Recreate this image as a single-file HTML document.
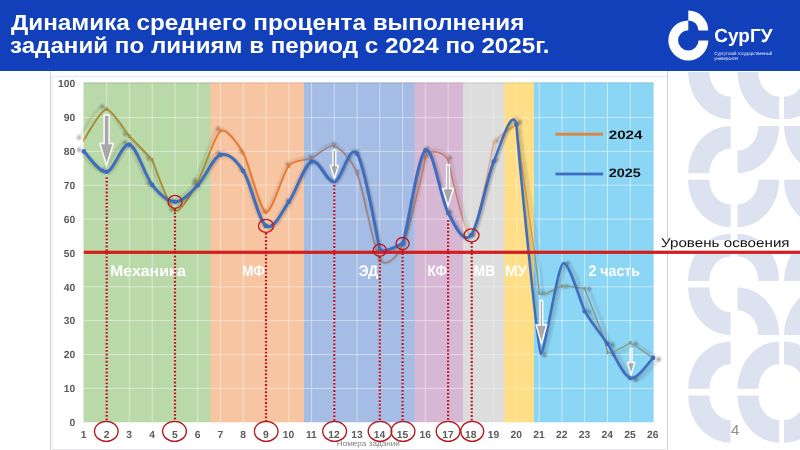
<!DOCTYPE html>
<html><head><meta charset="utf-8"><title>slide</title>
<style>
html,body{margin:0;padding:0;background:#fff;}
svg,div{will-change:transform}
text{text-rendering:geometricPrecision}
body{width:800px;height:450px;position:relative;overflow:hidden;font-family:"Liberation Sans",sans-serif;}
#hdr{position:absolute;left:0;top:0;width:800px;height:70.6px;background:#1240bb;}
.t{position:absolute;left:10px;color:#fff;font-weight:bold;font-size:21.5px;line-height:22px;white-space:nowrap;transform-origin:0 0;}
#frame{position:absolute;left:50.4px;top:69px;width:617.9px;height:384px;border:1.5px solid #d2d2d4;background:#fff;box-sizing:border-box;}
#frame2{position:absolute;left:52.2px;top:77.2px;width:614.4px;height:372.6px;border-left:1.2px solid #ececee;border-bottom:1.2px solid #e6e6e8;box-sizing:border-box;}
#lvl{position:absolute;left:656px;top:239.5px;width:144px;height:11.5px;background:#fff;}
#pg{position:absolute;left:730.7px;top:421.2px;font-size:15px;color:#8c8c8c;}
</style></head><body>
<svg width="800" height="450" viewBox="0 0 800 450" style="position:absolute;left:0;top:0"><g fill="#dde2f1">
<path d="M688.1 72.0 A42.5 47.3 0 0 0 730.6 119.3 V96.6 A21.2 24.6 0 0 1 709.4 72.0 Z"/>
<path d="M737.5 72.0 A41.7 47.3 0 0 0 779.2 119.3 V96.6 A20.9 24.6 0 0 1 758.4 72.0 Z"/>
<path d="M826.0 72.0 A42.0 47.3 0 0 1 784.0 119.3 V96.6 A21.0 24.6 0 0 0 805.0 72.0 Z"/>
<path d="M688.1 173.2 A42.5 47.3 0 0 1 730.6 125.9 V148.6 A21.2 24.6 0 0 0 709.4 173.2 Z"/>
<path d="M779.2 125.9 A41.7 47.3 0 0 1 737.5 173.2 V150.5 A20.9 24.6 0 0 0 758.4 125.9 Z"/>
<path d="M784.0 125.9 A42.0 47.3 0 0 0 826.0 173.2 V150.5 A21.0 24.6 0 0 1 805.0 125.9 Z"/>
<path d="M688.1 179.8 A42.5 47.3 0 0 0 730.6 227.1 V204.4 A21.2 24.6 0 0 1 709.4 179.8 Z"/>
<path d="M779.2 179.8 A41.7 47.3 0 0 1 737.5 227.1 V204.4 A20.9 24.6 0 0 0 758.4 179.8 Z"/>
<path d="M784.0 179.8 A42.0 47.3 0 0 0 826.0 227.1 V204.4 A21.0 24.6 0 0 1 805.0 179.8 Z"/>
<path d="M688.1 281.0 A42.5 47.3 0 0 1 730.6 233.7 V256.4 A21.2 24.6 0 0 0 709.4 281.0 Z"/>
<path d="M779.2 281.0 A41.7 47.3 0 0 0 737.5 233.7 V256.4 A20.9 24.6 0 0 1 758.4 281.0 Z"/>
<path d="M784.0 281.0 A42.0 47.3 0 0 1 826.0 233.7 V256.4 A21.0 24.6 0 0 0 805.0 281.0 Z"/>
<path d="M688.1 287.6 A42.5 47.3 0 0 0 730.6 334.9 V312.2 A21.2 24.6 0 0 1 709.4 287.6 Z"/>
<path d="M779.2 334.9 A41.7 47.3 0 0 0 737.5 287.6 V310.3 A20.9 24.6 0 0 1 758.4 334.9 Z"/>
<path d="M784.0 334.9 A42.0 47.3 0 0 1 826.0 287.6 V310.3 A21.0 24.6 0 0 0 805.0 334.9 Z"/>
<path d="M688.1 388.8 A42.5 47.3 0 0 1 730.6 341.5 V364.2 A21.2 24.6 0 0 0 709.4 388.8 Z"/>
<path d="M737.5 388.8 A41.7 47.3 0 0 1 779.2 341.5 V364.2 A20.9 24.6 0 0 0 758.4 388.8 Z"/>
<path d="M826.0 388.8 A42.0 47.3 0 0 0 784.0 341.5 V364.2 A21.0 24.6 0 0 1 805.0 388.8 Z"/>
<path d="M688.1 395.4 A42.5 47.3 0 0 0 730.6 442.7 V420.0 A21.2 24.6 0 0 1 709.4 395.4 Z"/>
<path d="M737.5 395.4 A41.7 47.3 0 0 0 779.2 442.7 V420.0 A20.9 24.6 0 0 1 758.4 395.4 Z"/>
<path d="M826.0 395.4 A42.0 47.3 0 0 1 784.0 442.7 V420.0 A21.0 24.6 0 0 0 805.0 395.4 Z"/>
</g></svg>
<div id="frame"></div><div id="frame2"></div><div style="position:absolute;left:52px;top:75.7px;width:614.7px;height:1.4px;background:#e9e9ec"></div>
<div id="hdr"></div>
<div class="t" id="t1" style="left:11.2px;top:11.75px;transform:scaleX(1.1282)">Динамика среднего процента выполнения</div>
<div class="t" id="t2" style="left:10.3px;top:34.65px;transform:scaleX(1.1232)">заданий по линиям в период с 2024 по 2025г.</div>
<svg width="800" height="70" viewBox="0 0 800 70" style="position:absolute;left:0;top:0">
<g fill="#fff">
<path d="M688.3 20.4 A20 20 0 1 0 708.3 40.4 H698.5 A10.2 10.2 0 1 1 688.3 30.2 Z"/>
<path d="M688.3 10.6 A20 20 0 0 1 708.3 30.4 H698.5 A10.2 10.2 0 0 0 688.3 20.4 Z"/>
</g>
<text x="714.3" y="42.2" textLength="58.2" lengthAdjust="spacingAndGlyphs" font-family="Liberation Sans, sans-serif" font-weight="bold" font-size="19" fill="#fff">СурГУ</text>
<text x="714.3" y="54.8" textLength="58" lengthAdjust="spacingAndGlyphs" font-family="Liberation Sans, sans-serif" font-size="4.6" fill="#fff" opacity="0.9">Сургутский государственный</text>
<text x="714.3" y="59.9" textLength="24.5" lengthAdjust="spacingAndGlyphs" font-family="Liberation Sans, sans-serif" font-size="4.6" fill="#fff" opacity="0.9">университет</text>
</svg>
<div id="lvl"></div>
<svg width="800" height="450" viewBox="0 0 800 450" style="position:absolute;left:0;top:0">
<defs>
<clipPath id="cb0"><rect x="83.5" y="70" width="127.0" height="380"/></clipPath>
<clipPath id="cb1"><rect x="210.5" y="70" width="93.5" height="380"/></clipPath>
<clipPath id="cb2"><rect x="304.0" y="70" width="110.4" height="380"/></clipPath>
<clipPath id="cb3"><rect x="414.4" y="70" width="48.6" height="380"/></clipPath>
<clipPath id="cb4"><rect x="463.0" y="70" width="41.2" height="380"/></clipPath>
<clipPath id="cb5"><rect x="504.2" y="70" width="29.8" height="380"/></clipPath>
<clipPath id="cb6"><rect x="534.0" y="70" width="119.6" height="380"/></clipPath>
<filter id="bl" x="-100%" y="-100%" width="300%" height="300%"><feGaussianBlur stdDeviation="1.1"/></filter>
<filter id="bl2" x="-20%" y="-20%" width="140%" height="140%"><feGaussianBlur stdDeviation="1.1"/></filter>
</defs>
<rect x="83.5" y="82.4" width="127.7" height="339.9" fill="#bad9a8"/>
<rect x="210.5" y="82.4" width="94.2" height="339.9" fill="#f7c5a2"/>
<rect x="304.0" y="82.4" width="111.1" height="339.9" fill="#a5bde5"/>
<rect x="414.4" y="82.4" width="49.3" height="339.9" fill="#d7b8d4"/>
<rect x="463.0" y="82.4" width="41.9" height="339.9" fill="#dddddd"/>
<rect x="504.2" y="82.4" width="30.5" height="339.9" fill="#fedf88"/>
<rect x="534.0" y="82.4" width="119.6" height="339.9" fill="#8cd6f5"/>
<rect x="83.5" y="82.4" width="570.1" height="1.2" fill="#000" opacity="0.08"/>
<g stroke="#fff" stroke-opacity="0.45" stroke-width="1" clip-path="url(#cb0)"><line x1="106.7" y1="82.4" x2="106.7" y2="422.3"/><line x1="129.4" y1="82.4" x2="129.4" y2="422.3"/><line x1="152.2" y1="82.4" x2="152.2" y2="422.3"/><line x1="175.0" y1="82.4" x2="175.0" y2="422.3"/><line x1="197.7" y1="82.4" x2="197.7" y2="422.3"/><line x1="83.5" y1="388.4" x2="210.5" y2="388.4"/><line x1="83.5" y1="354.5" x2="210.5" y2="354.5"/><line x1="83.5" y1="320.6" x2="210.5" y2="320.6"/><line x1="83.5" y1="286.8" x2="210.5" y2="286.8"/><line x1="83.5" y1="252.9" x2="210.5" y2="252.9"/><line x1="83.5" y1="219.1" x2="210.5" y2="219.1"/><line x1="83.5" y1="185.2" x2="210.5" y2="185.2"/><line x1="83.5" y1="151.4" x2="210.5" y2="151.4"/><line x1="83.5" y1="117.6" x2="210.5" y2="117.6"/></g>
<g stroke="#fff" stroke-opacity="0.45" stroke-width="1" clip-path="url(#cb1)"><line x1="220.5" y1="82.4" x2="220.5" y2="422.3"/><line x1="243.3" y1="82.4" x2="243.3" y2="422.3"/><line x1="266.0" y1="82.4" x2="266.0" y2="422.3"/><line x1="288.8" y1="82.4" x2="288.8" y2="422.3"/><line x1="210.5" y1="388.4" x2="304.0" y2="388.4"/><line x1="210.5" y1="354.5" x2="304.0" y2="354.5"/><line x1="210.5" y1="320.6" x2="304.0" y2="320.6"/><line x1="210.5" y1="286.8" x2="304.0" y2="286.8"/><line x1="210.5" y1="252.9" x2="304.0" y2="252.9"/><line x1="210.5" y1="219.1" x2="304.0" y2="219.1"/><line x1="210.5" y1="185.2" x2="304.0" y2="185.2"/><line x1="210.5" y1="151.4" x2="304.0" y2="151.4"/><line x1="210.5" y1="117.6" x2="304.0" y2="117.6"/></g>
<g stroke="#fff" stroke-opacity="0.45" stroke-width="1" clip-path="url(#cb2)"><line x1="311.6" y1="82.4" x2="311.6" y2="422.3"/><line x1="334.3" y1="82.4" x2="334.3" y2="422.3"/><line x1="357.1" y1="82.4" x2="357.1" y2="422.3"/><line x1="379.8" y1="82.4" x2="379.8" y2="422.3"/><line x1="402.6" y1="82.4" x2="402.6" y2="422.3"/><line x1="304.0" y1="388.4" x2="414.4" y2="388.4"/><line x1="304.0" y1="354.5" x2="414.4" y2="354.5"/><line x1="304.0" y1="320.6" x2="414.4" y2="320.6"/><line x1="304.0" y1="286.8" x2="414.4" y2="286.8"/><line x1="304.0" y1="252.9" x2="414.4" y2="252.9"/><line x1="304.0" y1="219.1" x2="414.4" y2="219.1"/><line x1="304.0" y1="185.2" x2="414.4" y2="185.2"/><line x1="304.0" y1="151.4" x2="414.4" y2="151.4"/><line x1="304.0" y1="117.6" x2="414.4" y2="117.6"/></g>
<g stroke="#fff" stroke-opacity="0.42" stroke-width="1" clip-path="url(#cb3)"><line x1="425.4" y1="82.4" x2="425.4" y2="422.3"/><line x1="448.1" y1="82.4" x2="448.1" y2="422.3"/><line x1="414.4" y1="388.4" x2="463.0" y2="388.4"/><line x1="414.4" y1="354.5" x2="463.0" y2="354.5"/><line x1="414.4" y1="320.6" x2="463.0" y2="320.6"/><line x1="414.4" y1="286.8" x2="463.0" y2="286.8"/><line x1="414.4" y1="252.9" x2="463.0" y2="252.9"/><line x1="414.4" y1="219.1" x2="463.0" y2="219.1"/><line x1="414.4" y1="185.2" x2="463.0" y2="185.2"/><line x1="414.4" y1="151.4" x2="463.0" y2="151.4"/><line x1="414.4" y1="117.6" x2="463.0" y2="117.6"/></g>
<g stroke="#fff" stroke-opacity="0.25" stroke-width="1" clip-path="url(#cb4)"><line x1="470.9" y1="82.4" x2="470.9" y2="422.3"/><line x1="493.7" y1="82.4" x2="493.7" y2="422.3"/><line x1="463.0" y1="388.4" x2="504.2" y2="388.4"/><line x1="463.0" y1="354.5" x2="504.2" y2="354.5"/><line x1="463.0" y1="320.6" x2="504.2" y2="320.6"/><line x1="463.0" y1="286.8" x2="504.2" y2="286.8"/><line x1="463.0" y1="252.9" x2="504.2" y2="252.9"/><line x1="463.0" y1="219.1" x2="504.2" y2="219.1"/><line x1="463.0" y1="185.2" x2="504.2" y2="185.2"/><line x1="463.0" y1="151.4" x2="504.2" y2="151.4"/><line x1="463.0" y1="117.6" x2="504.2" y2="117.6"/></g>
<g stroke="#fff" stroke-opacity="0.30" stroke-width="1" clip-path="url(#cb5)"><line x1="516.4" y1="82.4" x2="516.4" y2="422.3"/><line x1="504.2" y1="388.4" x2="534.0" y2="388.4"/><line x1="504.2" y1="354.5" x2="534.0" y2="354.5"/><line x1="504.2" y1="320.6" x2="534.0" y2="320.6"/><line x1="504.2" y1="286.8" x2="534.0" y2="286.8"/><line x1="504.2" y1="252.9" x2="534.0" y2="252.9"/><line x1="504.2" y1="219.1" x2="534.0" y2="219.1"/><line x1="504.2" y1="185.2" x2="534.0" y2="185.2"/><line x1="504.2" y1="151.4" x2="534.0" y2="151.4"/><line x1="504.2" y1="117.6" x2="534.0" y2="117.6"/></g>
<g stroke="#fff" stroke-opacity="0.50" stroke-width="1" clip-path="url(#cb6)"><line x1="539.2" y1="82.4" x2="539.2" y2="422.3"/><line x1="562.0" y1="82.4" x2="562.0" y2="422.3"/><line x1="584.7" y1="82.4" x2="584.7" y2="422.3"/><line x1="607.5" y1="82.4" x2="607.5" y2="422.3"/><line x1="630.3" y1="82.4" x2="630.3" y2="422.3"/><line x1="534.0" y1="388.4" x2="653.6" y2="388.4"/><line x1="534.0" y1="354.5" x2="653.6" y2="354.5"/><line x1="534.0" y1="320.6" x2="653.6" y2="320.6"/><line x1="534.0" y1="286.8" x2="653.6" y2="286.8"/><line x1="534.0" y1="252.9" x2="653.6" y2="252.9"/><line x1="534.0" y1="219.1" x2="653.6" y2="219.1"/><line x1="534.0" y1="185.2" x2="653.6" y2="185.2"/><line x1="534.0" y1="151.4" x2="653.6" y2="151.4"/><line x1="534.0" y1="117.6" x2="653.6" y2="117.6"/></g>
<text x="110.0" y="275.6" textLength="75.8" lengthAdjust="spacingAndGlyphs" font-family="Liberation Sans, sans-serif" font-weight="bold" font-size="15.4" fill="#fff">Механика</text>
<text x="242.0" y="275.6" textLength="23.0" lengthAdjust="spacingAndGlyphs" font-family="Liberation Sans, sans-serif" font-weight="bold" font-size="15.4" fill="#fff">МФ</text>
<text x="358.8" y="275.6" textLength="19.2" lengthAdjust="spacingAndGlyphs" font-family="Liberation Sans, sans-serif" font-weight="bold" font-size="15.4" fill="#fff">ЭД</text>
<text x="427.5" y="275.6" textLength="19.5" lengthAdjust="spacingAndGlyphs" font-family="Liberation Sans, sans-serif" font-weight="bold" font-size="15.4" fill="#fff">КФ</text>
<text x="473.8" y="275.6" textLength="21.2" lengthAdjust="spacingAndGlyphs" font-family="Liberation Sans, sans-serif" font-weight="bold" font-size="15.4" fill="#fff">МВ</text>
<text x="505.0" y="275.6" textLength="22.0" lengthAdjust="spacingAndGlyphs" font-family="Liberation Sans, sans-serif" font-weight="bold" font-size="15.4" fill="#fff">МУ</text>
<text x="588.4" y="275.6" textLength="51.6" lengthAdjust="spacingAndGlyphs" font-family="Liberation Sans, sans-serif" font-weight="bold" font-size="15.4" fill="#fff">2 часть</text>
<g filter="url(#bl)" transform="translate(343 270) scale(1.019 1.016) translate(-343 -270)"><g fill="none" stroke="#222" opacity="0.16"><path d="M83.90 139.89 C86.75 136.04 99.67 110.59 106.67 109.09 C113.67 111.09 123.74 129.82 129.43 136.17 C135.12 142.51 147.19 153.86 152.19 159.86 C155.69 168.86 169.27 207.89 174.96 210.64 C180.65 213.39 192.03 191.81 197.73 181.87 C203.42 171.92 214.80 134.69 220.49 131.09 C226.18 127.49 237.56 142.94 243.26 153.09 C248.95 163.25 260.33 210.72 266.02 212.33 C271.71 213.94 283.09 172.73 288.78 165.96 C294.48 159.19 305.86 160.67 311.55 158.17 C317.24 155.67 328.62 144.08 334.32 145.98 C340.01 147.89 351.39 159.19 357.08 173.40 C362.77 187.62 374.15 250.79 379.85 259.72 C385.54 268.65 396.92 257.65 402.61 244.83 C408.30 232.01 424.38 167.15 425.38 157.15 C428.88 148.15 443.14 151.52 448.14 159.52 C450.64 171.52 465.21 237.46 470.90 235.35 C476.60 233.23 491.17 152.60 493.67 142.60 C497.67 137.60 511.44 127.00 516.44 125.00 C517.94 145.00 538.40 270.89 539.20 292.89 C541.70 298.89 556.27 286.67 561.97 286.12 C567.66 285.57 579.73 287.99 584.73 288.49 C586.23 294.49 606.00 338.47 607.50 352.47 C611.50 353.97 625.26 346.15 630.26 342.65 C635.26 345.65 650.18 355.98 653.02 357.88" stroke-width="1.6"/><path d="M83.90 151.40 C87.69 154.79 99.08 172.84 106.67 171.71 C114.25 170.58 121.84 142.43 129.43 144.63 C137.02 146.83 144.61 175.38 152.19 184.91 C159.78 194.45 167.37 201.78 174.96 201.84 C182.55 201.89 190.14 193.09 197.73 185.25 C205.31 177.41 212.90 157.15 220.49 154.79 C228.08 152.42 235.67 159.19 243.26 171.03 C250.84 182.88 258.43 220.74 266.02 225.87 C273.61 231.00 281.20 212.56 288.78 201.84 C296.37 191.12 303.96 164.88 311.55 161.56 C319.14 158.23 326.73 183.16 334.32 181.87 C341.90 180.57 349.49 142.37 357.08 153.77 C364.67 165.17 376.35 234.24 379.85 250.24 C384.85 252.74 397.61 245.97 402.61 243.47 C407.61 229.47 417.79 155.46 425.38 150.38 C432.96 145.31 440.55 198.85 448.14 213.01 C455.73 227.17 463.32 243.92 470.90 235.35 C478.49 226.77 486.08 180.06 493.67 161.56" stroke-width="2.4"/><path d="M493.67 161.56 C501.26 143.05 512.04 106.32 516.44 124.32 C517.94 146.32 537.60 350.82 540.80 353.82 C545.30 351.82 557.57 263.61 563.57 263.11 C569.57 263.61 578.73 297.17 584.73 311.17 C590.73 322.17 601.50 334.67 607.50 343.67 C614.50 354.67 622.67 375.49 630.26 377.86 C637.85 380.23 649.23 361.21 653.02 357.88" stroke-width="2.2"/></g><g fill="#222" opacity="0.38"><circle cx="83.9" cy="139.9" r="2.0"/><circle cx="106.7" cy="109.1" r="2.0"/><circle cx="129.4" cy="136.2" r="2.0"/><circle cx="152.2" cy="159.9" r="2.0"/><circle cx="175.0" cy="210.6" r="2.0"/><circle cx="197.7" cy="181.9" r="2.0"/><circle cx="220.5" cy="131.1" r="2.0"/><circle cx="243.3" cy="153.1" r="2.0"/><circle cx="266.0" cy="212.3" r="2.0"/><circle cx="288.8" cy="166.0" r="2.0"/><circle cx="311.6" cy="158.2" r="2.0"/><circle cx="334.3" cy="146.0" r="2.0"/><circle cx="357.1" cy="173.4" r="2.0"/><circle cx="379.8" cy="259.7" r="2.0"/><circle cx="402.6" cy="244.8" r="2.0"/><circle cx="425.4" cy="157.2" r="2.0"/><circle cx="448.1" cy="159.5" r="2.0"/><circle cx="470.9" cy="235.3" r="2.0"/><circle cx="493.7" cy="142.6" r="2.0"/><circle cx="516.4" cy="125.0" r="2.0"/><circle cx="539.2" cy="292.9" r="2.0"/><circle cx="562.0" cy="286.1" r="2.0"/><circle cx="584.7" cy="288.5" r="2.0"/><circle cx="607.5" cy="352.5" r="2.0"/><circle cx="630.3" cy="342.7" r="2.0"/><circle cx="653.0" cy="357.9" r="2.0"/><circle cx="83.9" cy="151.4" r="2.0"/><circle cx="106.7" cy="171.7" r="2.0"/><circle cx="129.4" cy="144.6" r="2.0"/><circle cx="152.2" cy="184.9" r="2.0"/><circle cx="175.0" cy="201.8" r="2.0"/><circle cx="197.7" cy="185.2" r="2.0"/><circle cx="220.5" cy="154.8" r="2.0"/><circle cx="243.3" cy="171.0" r="2.0"/><circle cx="266.0" cy="225.9" r="2.0"/><circle cx="288.8" cy="201.8" r="2.0"/><circle cx="311.6" cy="161.6" r="2.0"/><circle cx="334.3" cy="181.9" r="2.0"/><circle cx="357.1" cy="153.8" r="2.0"/><circle cx="379.8" cy="250.2" r="2.0"/><circle cx="402.6" cy="243.5" r="2.0"/><circle cx="425.4" cy="150.4" r="2.0"/><circle cx="448.1" cy="213.0" r="2.0"/><circle cx="470.9" cy="235.3" r="2.0"/><circle cx="493.7" cy="161.6" r="2.0"/><circle cx="516.4" cy="124.3" r="2.0"/><circle cx="540.8" cy="353.8" r="2.0"/><circle cx="563.6" cy="263.1" r="2.0"/><circle cx="584.7" cy="311.2" r="2.0"/><circle cx="607.5" cy="343.7" r="2.0"/><circle cx="630.3" cy="377.9" r="2.0"/><circle cx="653.0" cy="357.9" r="2.0"/></g></g>
<path d="M83.90 139.89 C86.75 136.04 99.67 110.59 106.67 109.09 C113.67 111.09 123.74 129.82 129.43 136.17 C135.12 142.51 147.19 153.86 152.19 159.86 C155.69 168.86 169.27 207.89 174.96 210.64 C180.65 213.39 192.03 191.81 197.73 181.87 C203.42 171.92 214.80 134.69 220.49 131.09 C226.18 127.49 237.56 142.94 243.26 153.09 C248.95 163.25 260.33 210.72 266.02 212.33 C271.71 213.94 283.09 172.73 288.78 165.96 C294.48 159.19 305.86 160.67 311.55 158.17 C317.24 155.67 328.62 144.08 334.32 145.98 C340.01 147.89 351.39 159.19 357.08 173.40 C362.77 187.62 374.15 250.79 379.85 259.72 C385.54 268.65 396.92 257.65 402.61 244.83 C408.30 232.01 424.38 167.15 425.38 157.15 C428.88 148.15 443.14 151.52 448.14 159.52 C450.64 171.52 465.21 237.46 470.90 235.35 C476.60 233.23 491.17 152.60 493.67 142.60 C497.67 137.60 511.44 127.00 516.44 125.00 C517.94 145.00 538.40 270.89 539.20 292.89 C541.70 298.89 556.27 286.67 561.97 286.12 C567.66 285.57 579.73 287.99 584.73 288.49 C586.23 294.49 606.00 338.47 607.50 352.47 C611.50 353.97 625.26 346.15 630.26 342.65 C635.26 345.65 650.18 355.98 653.02 357.88" fill="none" stroke="#a68e3a" stroke-width="2.0" stroke-linejoin="round" clip-path="url(#cb0)"/>
<path d="M83.90 139.89 C86.75 136.04 99.67 110.59 106.67 109.09 C113.67 111.09 123.74 129.82 129.43 136.17 C135.12 142.51 147.19 153.86 152.19 159.86 C155.69 168.86 169.27 207.89 174.96 210.64 C180.65 213.39 192.03 191.81 197.73 181.87 C203.42 171.92 214.80 134.69 220.49 131.09 C226.18 127.49 237.56 142.94 243.26 153.09 C248.95 163.25 260.33 210.72 266.02 212.33 C271.71 213.94 283.09 172.73 288.78 165.96 C294.48 159.19 305.86 160.67 311.55 158.17 C317.24 155.67 328.62 144.08 334.32 145.98 C340.01 147.89 351.39 159.19 357.08 173.40 C362.77 187.62 374.15 250.79 379.85 259.72 C385.54 268.65 396.92 257.65 402.61 244.83 C408.30 232.01 424.38 167.15 425.38 157.15 C428.88 148.15 443.14 151.52 448.14 159.52 C450.64 171.52 465.21 237.46 470.90 235.35 C476.60 233.23 491.17 152.60 493.67 142.60 C497.67 137.60 511.44 127.00 516.44 125.00 C517.94 145.00 538.40 270.89 539.20 292.89 C541.70 298.89 556.27 286.67 561.97 286.12 C567.66 285.57 579.73 287.99 584.73 288.49 C586.23 294.49 606.00 338.47 607.50 352.47 C611.50 353.97 625.26 346.15 630.26 342.65 C635.26 345.65 650.18 355.98 653.02 357.88" fill="none" stroke="#ea7a30" stroke-width="1.9" stroke-linejoin="round" clip-path="url(#cb1)"/>
<path d="M83.90 139.89 C86.75 136.04 99.67 110.59 106.67 109.09 C113.67 111.09 123.74 129.82 129.43 136.17 C135.12 142.51 147.19 153.86 152.19 159.86 C155.69 168.86 169.27 207.89 174.96 210.64 C180.65 213.39 192.03 191.81 197.73 181.87 C203.42 171.92 214.80 134.69 220.49 131.09 C226.18 127.49 237.56 142.94 243.26 153.09 C248.95 163.25 260.33 210.72 266.02 212.33 C271.71 213.94 283.09 172.73 288.78 165.96 C294.48 159.19 305.86 160.67 311.55 158.17 C317.24 155.67 328.62 144.08 334.32 145.98 C340.01 147.89 351.39 159.19 357.08 173.40 C362.77 187.62 374.15 250.79 379.85 259.72 C385.54 268.65 396.92 257.65 402.61 244.83 C408.30 232.01 424.38 167.15 425.38 157.15 C428.88 148.15 443.14 151.52 448.14 159.52 C450.64 171.52 465.21 237.46 470.90 235.35 C476.60 233.23 491.17 152.60 493.67 142.60 C497.67 137.60 511.44 127.00 516.44 125.00 C517.94 145.00 538.40 270.89 539.20 292.89 C541.70 298.89 556.27 286.67 561.97 286.12 C567.66 285.57 579.73 287.99 584.73 288.49 C586.23 294.49 606.00 338.47 607.50 352.47 C611.50 353.97 625.26 346.15 630.26 342.65 C635.26 345.65 650.18 355.98 653.02 357.88" fill="none" stroke="#a0807e" stroke-width="1.6" stroke-linejoin="round" clip-path="url(#cb2)"/>
<path d="M83.90 139.89 C86.75 136.04 99.67 110.59 106.67 109.09 C113.67 111.09 123.74 129.82 129.43 136.17 C135.12 142.51 147.19 153.86 152.19 159.86 C155.69 168.86 169.27 207.89 174.96 210.64 C180.65 213.39 192.03 191.81 197.73 181.87 C203.42 171.92 214.80 134.69 220.49 131.09 C226.18 127.49 237.56 142.94 243.26 153.09 C248.95 163.25 260.33 210.72 266.02 212.33 C271.71 213.94 283.09 172.73 288.78 165.96 C294.48 159.19 305.86 160.67 311.55 158.17 C317.24 155.67 328.62 144.08 334.32 145.98 C340.01 147.89 351.39 159.19 357.08 173.40 C362.77 187.62 374.15 250.79 379.85 259.72 C385.54 268.65 396.92 257.65 402.61 244.83 C408.30 232.01 424.38 167.15 425.38 157.15 C428.88 148.15 443.14 151.52 448.14 159.52 C450.64 171.52 465.21 237.46 470.90 235.35 C476.60 233.23 491.17 152.60 493.67 142.60 C497.67 137.60 511.44 127.00 516.44 125.00 C517.94 145.00 538.40 270.89 539.20 292.89 C541.70 298.89 556.27 286.67 561.97 286.12 C567.66 285.57 579.73 287.99 584.73 288.49 C586.23 294.49 606.00 338.47 607.50 352.47 C611.50 353.97 625.26 346.15 630.26 342.65 C635.26 345.65 650.18 355.98 653.02 357.88" fill="none" stroke="#c97a62" stroke-width="1.5" stroke-linejoin="round" clip-path="url(#cb3)"/>
<path d="M83.90 139.89 C86.75 136.04 99.67 110.59 106.67 109.09 C113.67 111.09 123.74 129.82 129.43 136.17 C135.12 142.51 147.19 153.86 152.19 159.86 C155.69 168.86 169.27 207.89 174.96 210.64 C180.65 213.39 192.03 191.81 197.73 181.87 C203.42 171.92 214.80 134.69 220.49 131.09 C226.18 127.49 237.56 142.94 243.26 153.09 C248.95 163.25 260.33 210.72 266.02 212.33 C271.71 213.94 283.09 172.73 288.78 165.96 C294.48 159.19 305.86 160.67 311.55 158.17 C317.24 155.67 328.62 144.08 334.32 145.98 C340.01 147.89 351.39 159.19 357.08 173.40 C362.77 187.62 374.15 250.79 379.85 259.72 C385.54 268.65 396.92 257.65 402.61 244.83 C408.30 232.01 424.38 167.15 425.38 157.15 C428.88 148.15 443.14 151.52 448.14 159.52 C450.64 171.52 465.21 237.46 470.90 235.35 C476.60 233.23 491.17 152.60 493.67 142.60 C497.67 137.60 511.44 127.00 516.44 125.00 C517.94 145.00 538.40 270.89 539.20 292.89 C541.70 298.89 556.27 286.67 561.97 286.12 C567.66 285.57 579.73 287.99 584.73 288.49 C586.23 294.49 606.00 338.47 607.50 352.47 C611.50 353.97 625.26 346.15 630.26 342.65 C635.26 345.65 650.18 355.98 653.02 357.88" fill="none" stroke="#e2a982" stroke-width="1.4" stroke-linejoin="round" clip-path="url(#cb4)"/>
<path d="M83.90 139.89 C86.75 136.04 99.67 110.59 106.67 109.09 C113.67 111.09 123.74 129.82 129.43 136.17 C135.12 142.51 147.19 153.86 152.19 159.86 C155.69 168.86 169.27 207.89 174.96 210.64 C180.65 213.39 192.03 191.81 197.73 181.87 C203.42 171.92 214.80 134.69 220.49 131.09 C226.18 127.49 237.56 142.94 243.26 153.09 C248.95 163.25 260.33 210.72 266.02 212.33 C271.71 213.94 283.09 172.73 288.78 165.96 C294.48 159.19 305.86 160.67 311.55 158.17 C317.24 155.67 328.62 144.08 334.32 145.98 C340.01 147.89 351.39 159.19 357.08 173.40 C362.77 187.62 374.15 250.79 379.85 259.72 C385.54 268.65 396.92 257.65 402.61 244.83 C408.30 232.01 424.38 167.15 425.38 157.15 C428.88 148.15 443.14 151.52 448.14 159.52 C450.64 171.52 465.21 237.46 470.90 235.35 C476.60 233.23 491.17 152.60 493.67 142.60 C497.67 137.60 511.44 127.00 516.44 125.00 C517.94 145.00 538.40 270.89 539.20 292.89 C541.70 298.89 556.27 286.67 561.97 286.12 C567.66 285.57 579.73 287.99 584.73 288.49 C586.23 294.49 606.00 338.47 607.50 352.47 C611.50 353.97 625.26 346.15 630.26 342.65 C635.26 345.65 650.18 355.98 653.02 357.88" fill="none" stroke="#dca040" stroke-width="1.6" stroke-linejoin="round" clip-path="url(#cb5)"/>
<path d="M83.90 139.89 C86.75 136.04 99.67 110.59 106.67 109.09 C113.67 111.09 123.74 129.82 129.43 136.17 C135.12 142.51 147.19 153.86 152.19 159.86 C155.69 168.86 169.27 207.89 174.96 210.64 C180.65 213.39 192.03 191.81 197.73 181.87 C203.42 171.92 214.80 134.69 220.49 131.09 C226.18 127.49 237.56 142.94 243.26 153.09 C248.95 163.25 260.33 210.72 266.02 212.33 C271.71 213.94 283.09 172.73 288.78 165.96 C294.48 159.19 305.86 160.67 311.55 158.17 C317.24 155.67 328.62 144.08 334.32 145.98 C340.01 147.89 351.39 159.19 357.08 173.40 C362.77 187.62 374.15 250.79 379.85 259.72 C385.54 268.65 396.92 257.65 402.61 244.83 C408.30 232.01 424.38 167.15 425.38 157.15 C428.88 148.15 443.14 151.52 448.14 159.52 C450.64 171.52 465.21 237.46 470.90 235.35 C476.60 233.23 491.17 152.60 493.67 142.60 C497.67 137.60 511.44 127.00 516.44 125.00 C517.94 145.00 538.40 270.89 539.20 292.89 C541.70 298.89 556.27 286.67 561.97 286.12 C567.66 285.57 579.73 287.99 584.73 288.49 C586.23 294.49 606.00 338.47 607.50 352.47 C611.50 353.97 625.26 346.15 630.26 342.65 C635.26 345.65 650.18 355.98 653.02 357.88" fill="none" stroke="#8a9a8c" stroke-width="1.5" stroke-linejoin="round" clip-path="url(#cb6)"/>
<rect x="82.8" y="138.1" width="2.2" height="3.6" fill="#e3a368"/>
<rect x="105.6" y="107.3" width="2.2" height="3.6" fill="#a68e3a"/>
<rect x="128.3" y="134.4" width="2.2" height="3.6" fill="#a68e3a"/>
<rect x="151.1" y="158.1" width="2.2" height="3.6" fill="#a68e3a"/>
<rect x="173.9" y="208.8" width="2.2" height="3.6" fill="#a68e3a"/>
<rect x="196.6" y="180.1" width="2.2" height="3.6" fill="#a68e3a"/>
<rect x="219.4" y="129.3" width="2.2" height="3.6" fill="#ea7a30"/>
<rect x="242.2" y="151.3" width="2.2" height="3.6" fill="#ea7a30"/>
<rect x="264.9" y="210.5" width="2.2" height="3.6" fill="#ea7a30"/>
<rect x="287.7" y="164.2" width="2.2" height="3.6" fill="#ea7a30"/>
<rect x="310.4" y="156.4" width="2.2" height="3.6" fill="#a0807e"/>
<rect x="333.2" y="144.2" width="2.2" height="3.6" fill="#a0807e"/>
<rect x="356.0" y="171.6" width="2.2" height="3.6" fill="#a0807e"/>
<rect x="378.7" y="257.9" width="2.2" height="3.6" fill="#a0807e"/>
<rect x="401.5" y="243.0" width="2.2" height="3.6" fill="#a0807e"/>
<rect x="424.3" y="155.4" width="2.2" height="3.6" fill="#c97a62"/>
<rect x="447.0" y="157.7" width="2.2" height="3.6" fill="#c97a62"/>
<rect x="469.8" y="233.5" width="2.2" height="3.6" fill="#e2a982"/>
<rect x="492.6" y="140.8" width="2.2" height="3.6" fill="#e2a982"/>
<rect x="515.3" y="123.2" width="2.2" height="3.6" fill="#dca040"/>
<rect x="538.1" y="291.1" width="2.2" height="3.6" fill="#8a9a8c"/>
<rect x="560.9" y="284.3" width="2.2" height="3.6" fill="#8a9a8c"/>
<rect x="583.6" y="286.7" width="2.2" height="3.6" fill="#8a9a8c"/>
<rect x="606.4" y="350.7" width="2.2" height="3.6" fill="#8a9a8c"/>
<rect x="629.2" y="340.9" width="2.2" height="3.6" fill="#8a9a8c"/>
<rect x="651.9" y="356.1" width="2.2" height="3.6" fill="#8a9a8c"/>
<g opacity="0.30" filter="url(#bl2)" transform="translate(1.2,1.4)"><path d="M83.90 151.40 C87.69 154.79 99.08 172.84 106.67 171.71 C114.25 170.58 121.84 142.43 129.43 144.63 C137.02 146.83 144.61 175.38 152.19 184.91 C159.78 194.45 167.37 201.78 174.96 201.84 C182.55 201.89 190.14 193.09 197.73 185.25 C205.31 177.41 212.90 157.15 220.49 154.79 C228.08 152.42 235.67 159.19 243.26 171.03 C250.84 182.88 258.43 220.74 266.02 225.87 C273.61 231.00 281.20 212.56 288.78 201.84 C296.37 191.12 303.96 164.88 311.55 161.56 C319.14 158.23 326.73 183.16 334.32 181.87 C341.90 180.57 349.49 142.37 357.08 153.77 C364.67 165.17 376.35 234.24 379.85 250.24 C384.85 252.74 397.61 245.97 402.61 243.47 C407.61 229.47 417.79 155.46 425.38 150.38 C432.96 145.31 440.55 198.85 448.14 213.01 C455.73 227.17 463.32 243.92 470.90 235.35 C478.49 226.77 486.08 180.06 493.67 161.56" fill="none" stroke="#333" stroke-width="2.5"/><path d="M493.67 161.56 C501.26 143.05 512.04 106.32 516.44 124.32 C517.94 146.32 537.60 350.82 540.80 353.82 C545.30 351.82 557.57 263.61 563.57 263.11 C569.57 263.61 578.73 297.17 584.73 311.17 C590.73 322.17 601.50 334.67 607.50 343.67 C614.50 354.67 622.67 375.49 630.26 377.86 C637.85 380.23 649.23 361.21 653.02 357.88" fill="none" stroke="#333" stroke-width="2"/></g>
<path d="M83.90 151.40 C87.69 154.79 99.08 172.84 106.67 171.71 C114.25 170.58 121.84 142.43 129.43 144.63 C137.02 146.83 144.61 175.38 152.19 184.91 C159.78 194.45 167.37 201.78 174.96 201.84 C182.55 201.89 190.14 193.09 197.73 185.25 C205.31 177.41 212.90 157.15 220.49 154.79 C228.08 152.42 235.67 159.19 243.26 171.03 C250.84 182.88 258.43 220.74 266.02 225.87 C273.61 231.00 281.20 212.56 288.78 201.84 C296.37 191.12 303.96 164.88 311.55 161.56 C319.14 158.23 326.73 183.16 334.32 181.87 C341.90 180.57 349.49 142.37 357.08 153.77 C364.67 165.17 376.35 234.24 379.85 250.24 C384.85 252.74 397.61 245.97 402.61 243.47 C407.61 229.47 417.79 155.46 425.38 150.38 C432.96 145.31 440.55 198.85 448.14 213.01 C455.73 227.17 463.32 243.92 470.90 235.35 C478.49 226.77 486.08 180.06 493.67 161.56" fill="none" stroke="#3e6dbf" stroke-width="2.9" stroke-linecap="round" stroke-linejoin="round"/>
<path d="M493.67 161.56 C501.26 143.05 512.04 106.32 516.44 124.32 C517.94 146.32 537.60 350.82 540.80 353.82 C545.30 351.82 557.57 263.61 563.57 263.11 C569.57 263.61 578.73 297.17 584.73 311.17 C590.73 322.17 601.50 334.67 607.50 343.67 C614.50 354.67 622.67 375.49 630.26 377.86 C637.85 380.23 649.23 361.21 653.02 357.88" fill="none" stroke="#3e6dbf" stroke-width="2.5" stroke-linecap="round" stroke-linejoin="round"/>
<circle cx="83.9" cy="151.4" r="2.3" fill="#3e6dbf"/>
<circle cx="106.7" cy="171.7" r="2.3" fill="#3e6dbf"/>
<circle cx="129.4" cy="144.6" r="2.3" fill="#3e6dbf"/>
<circle cx="152.2" cy="184.9" r="2.3" fill="#3e6dbf"/>
<circle cx="175.0" cy="201.8" r="2.3" fill="#3e6dbf"/>
<circle cx="197.7" cy="185.2" r="2.3" fill="#3e6dbf"/>
<circle cx="220.5" cy="154.8" r="2.3" fill="#3e6dbf"/>
<circle cx="243.3" cy="171.0" r="2.3" fill="#3e6dbf"/>
<circle cx="266.0" cy="225.9" r="2.3" fill="#3e6dbf"/>
<circle cx="288.8" cy="201.8" r="2.3" fill="#3e6dbf"/>
<circle cx="311.6" cy="161.6" r="2.3" fill="#3e6dbf"/>
<circle cx="357.1" cy="153.8" r="2.3" fill="#3e6dbf"/>
<circle cx="379.8" cy="250.2" r="2.3" fill="#3e6dbf"/>
<circle cx="402.6" cy="243.5" r="2.3" fill="#3e6dbf"/>
<circle cx="425.4" cy="150.4" r="2.3" fill="#3e6dbf"/>
<circle cx="448.1" cy="213.0" r="2.3" fill="#3e6dbf"/>
<circle cx="470.9" cy="235.3" r="2.3" fill="#3e6dbf"/>
<circle cx="493.7" cy="161.6" r="2.3" fill="#3e6dbf"/>
<circle cx="516.4" cy="124.3" r="2.3" fill="#3e6dbf"/>
<circle cx="584.7" cy="311.2" r="2.3" fill="#3e6dbf"/>
<circle cx="607.5" cy="343.7" r="2.3" fill="#3e6dbf"/>
<circle cx="630.3" cy="377.9" r="2.3" fill="#3e6dbf"/>
<circle cx="653.0" cy="357.9" r="2.3" fill="#3e6dbf"/>
<rect x="83.8" y="250.7" width="716.2" height="3.2" fill="#d21f1d"/>
<line x1="106.7" y1="177.2" x2="106.7" y2="421.3" stroke="#bd1420" stroke-width="2.2" stroke-dasharray="1.85 1.75"/>
<line x1="175.0" y1="208.8" x2="175.0" y2="421.3" stroke="#bd1420" stroke-width="2.2" stroke-dasharray="1.85 1.75"/>
<line x1="266.0" y1="232.9" x2="266.0" y2="421.3" stroke="#bd1420" stroke-width="2.2" stroke-dasharray="1.85 1.75"/>
<line x1="334.3" y1="184.9" x2="334.3" y2="421.3" stroke="#bd1420" stroke-width="2.2" stroke-dasharray="1.85 1.75"/>
<line x1="379.8" y1="256.2" x2="379.8" y2="421.3" stroke="#bd1420" stroke-width="2.2" stroke-dasharray="1.85 1.75"/>
<line x1="402.6" y1="249.5" x2="402.6" y2="421.3" stroke="#bd1420" stroke-width="2.2" stroke-dasharray="1.85 1.75"/>
<line x1="448.1" y1="220.0" x2="448.1" y2="421.3" stroke="#bd1420" stroke-width="2.2" stroke-dasharray="1.85 1.75"/>
<line x1="471.7" y1="242.3" x2="471.7" y2="421.3" stroke="#bd1420" stroke-width="2.2" stroke-dasharray="1.85 1.75"/>
<ellipse cx="175.0" cy="201.8" rx="7.0" ry="6.5" fill="none" stroke="#c0141a" stroke-width="1.3"/>
<ellipse cx="266.0" cy="225.9" rx="7.5" ry="6.5" fill="none" stroke="#c0141a" stroke-width="1.3"/>
<ellipse cx="379.8" cy="250.2" rx="6.5" ry="6.0" fill="none" stroke="#c0141a" stroke-width="1.3"/>
<ellipse cx="402.6" cy="243.5" rx="6.5" ry="6.0" fill="none" stroke="#c0141a" stroke-width="1.3"/>
<ellipse cx="471.5" cy="235.3" rx="7.5" ry="6.5" fill="none" stroke="#c0141a" stroke-width="1.3"/>
<ellipse cx="106.3" cy="431.3" rx="11.8" ry="10" fill="none" stroke="#b5161c" stroke-width="1.35"/>
<ellipse cx="174.5" cy="431.3" rx="11.9" ry="10" fill="none" stroke="#b5161c" stroke-width="1.35"/>
<ellipse cx="266.2" cy="431.3" rx="11.8" ry="10" fill="none" stroke="#b5161c" stroke-width="1.35"/>
<ellipse cx="334.6" cy="431.3" rx="11.9" ry="10" fill="none" stroke="#b5161c" stroke-width="1.35"/>
<ellipse cx="380.0" cy="431.3" rx="11.8" ry="10" fill="none" stroke="#b5161c" stroke-width="1.35"/>
<ellipse cx="403.0" cy="431.3" rx="11.9" ry="10" fill="none" stroke="#b5161c" stroke-width="1.35"/>
<ellipse cx="448.1" cy="431.3" rx="11.9" ry="10" fill="none" stroke="#b5161c" stroke-width="1.35"/>
<ellipse cx="472.2" cy="431.3" rx="11.5" ry="10" fill="none" stroke="#b5161c" stroke-width="1.35"/>
<path d="M104.1 115.0 H109.1 V143.5 H113.3 L106.6 165.5 L99.9 143.5 H104.1 Z" fill="#a8a8a8" stroke="#fff" stroke-width="1.4" stroke-linejoin="miter"/>
<path d="M332.9 150.2 H335.8 V165.5 H338.4 L334.4 178.5 L330.4 165.5 H332.9 Z" fill="#a8a8a8" stroke="#fff" stroke-width="1.4" stroke-linejoin="miter"/>
<path d="M446.6 164.6 H449.4 V188.5 H453.5 L448.0 206.0 L442.5 188.5 H446.6 Z" fill="#a8a8a8" stroke="#fff" stroke-width="1.4" stroke-linejoin="miter"/>
<path d="M540.1 300.5 H542.7 V325.0 H546.7 L541.4 343.5 L536.1 325.0 H540.1 Z" fill="#a8a8a8" stroke="#fff" stroke-width="1.4" stroke-linejoin="miter"/>
<path d="M630.2 348.5 H632.0 V362.5 H634.7 L631.1 374.8 L627.5 362.5 H630.2 Z" fill="#a8a8a8" stroke="#fff" stroke-width="1.4" stroke-linejoin="miter"/>
<rect x="555.5" y="132.7" width="47.5" height="3" fill="#d88748"/>
<rect x="555.5" y="172.6" width="47.5" height="2.8" fill="#3e6dbf"/>
<text x="608.7" y="138.7" textLength="33.8" lengthAdjust="spacingAndGlyphs" font-family="Liberation Sans, sans-serif" font-weight="bold" font-size="12.2" fill="#111">2024</text>
<text x="608.7" y="177.3" textLength="32" lengthAdjust="spacingAndGlyphs" font-family="Liberation Sans, sans-serif" font-weight="bold" font-size="12.2" fill="#111">2025</text>
<text x="75.2" y="425.9" text-anchor="end" font-family="Liberation Sans, sans-serif" font-weight="bold" font-size="10.3" fill="#5a5a5a">0</text>
<text x="75.2" y="392.1" text-anchor="end" font-family="Liberation Sans, sans-serif" font-weight="bold" font-size="10.3" fill="#5a5a5a">10</text>
<text x="75.2" y="358.2" text-anchor="end" font-family="Liberation Sans, sans-serif" font-weight="bold" font-size="10.3" fill="#5a5a5a">20</text>
<text x="75.2" y="324.3" text-anchor="end" font-family="Liberation Sans, sans-serif" font-weight="bold" font-size="10.3" fill="#5a5a5a">30</text>
<text x="75.2" y="290.5" text-anchor="end" font-family="Liberation Sans, sans-serif" font-weight="bold" font-size="10.3" fill="#5a5a5a">40</text>
<text x="75.2" y="256.6" text-anchor="end" font-family="Liberation Sans, sans-serif" font-weight="bold" font-size="10.3" fill="#5a5a5a">50</text>
<text x="75.2" y="222.8" text-anchor="end" font-family="Liberation Sans, sans-serif" font-weight="bold" font-size="10.3" fill="#5a5a5a">60</text>
<text x="75.2" y="188.9" text-anchor="end" font-family="Liberation Sans, sans-serif" font-weight="bold" font-size="10.3" fill="#5a5a5a">70</text>
<text x="75.2" y="155.1" text-anchor="end" font-family="Liberation Sans, sans-serif" font-weight="bold" font-size="10.3" fill="#5a5a5a">80</text>
<text x="75.2" y="121.3" text-anchor="end" font-family="Liberation Sans, sans-serif" font-weight="bold" font-size="10.3" fill="#5a5a5a">90</text>
<text x="75.2" y="87.4" text-anchor="end" font-family="Liberation Sans, sans-serif" font-weight="bold" font-size="10.3" fill="#5a5a5a">100</text>
<text x="83.7" y="437.6" text-anchor="middle" font-family="Liberation Sans, sans-serif" font-weight="bold" font-size="10.3" fill="#5c5c5c">1</text>
<text x="106.5" y="437.6" text-anchor="middle" font-family="Liberation Sans, sans-serif" font-weight="bold" font-size="10.3" fill="#5c5c5c">2</text>
<text x="129.2" y="437.6" text-anchor="middle" font-family="Liberation Sans, sans-serif" font-weight="bold" font-size="10.3" fill="#5c5c5c">3</text>
<text x="152.0" y="437.6" text-anchor="middle" font-family="Liberation Sans, sans-serif" font-weight="bold" font-size="10.3" fill="#5c5c5c">4</text>
<text x="174.8" y="437.6" text-anchor="middle" font-family="Liberation Sans, sans-serif" font-weight="bold" font-size="10.3" fill="#5c5c5c">5</text>
<text x="197.5" y="437.6" text-anchor="middle" font-family="Liberation Sans, sans-serif" font-weight="bold" font-size="10.3" fill="#5c5c5c">6</text>
<text x="220.3" y="437.6" text-anchor="middle" font-family="Liberation Sans, sans-serif" font-weight="bold" font-size="10.3" fill="#5c5c5c">7</text>
<text x="243.1" y="437.6" text-anchor="middle" font-family="Liberation Sans, sans-serif" font-weight="bold" font-size="10.3" fill="#5c5c5c">8</text>
<text x="265.8" y="437.6" text-anchor="middle" font-family="Liberation Sans, sans-serif" font-weight="bold" font-size="10.3" fill="#5c5c5c">9</text>
<text x="288.6" y="437.6" text-anchor="middle" font-family="Liberation Sans, sans-serif" font-weight="bold" font-size="10.3" fill="#5c5c5c">10</text>
<text x="311.4" y="437.6" text-anchor="middle" font-family="Liberation Sans, sans-serif" font-weight="bold" font-size="10.3" fill="#5c5c5c">11</text>
<text x="334.1" y="437.6" text-anchor="middle" font-family="Liberation Sans, sans-serif" font-weight="bold" font-size="10.3" fill="#5c5c5c">12</text>
<text x="356.9" y="437.6" text-anchor="middle" font-family="Liberation Sans, sans-serif" font-weight="bold" font-size="10.3" fill="#5c5c5c">13</text>
<text x="379.6" y="437.6" text-anchor="middle" font-family="Liberation Sans, sans-serif" font-weight="bold" font-size="10.3" fill="#5c5c5c">14</text>
<text x="402.4" y="437.6" text-anchor="middle" font-family="Liberation Sans, sans-serif" font-weight="bold" font-size="10.3" fill="#5c5c5c">15</text>
<text x="425.2" y="437.6" text-anchor="middle" font-family="Liberation Sans, sans-serif" font-weight="bold" font-size="10.3" fill="#5c5c5c">16</text>
<text x="447.9" y="437.6" text-anchor="middle" font-family="Liberation Sans, sans-serif" font-weight="bold" font-size="10.3" fill="#5c5c5c">17</text>
<text x="470.7" y="437.6" text-anchor="middle" font-family="Liberation Sans, sans-serif" font-weight="bold" font-size="10.3" fill="#5c5c5c">18</text>
<text x="493.5" y="437.6" text-anchor="middle" font-family="Liberation Sans, sans-serif" font-weight="bold" font-size="10.3" fill="#5c5c5c">19</text>
<text x="516.2" y="437.6" text-anchor="middle" font-family="Liberation Sans, sans-serif" font-weight="bold" font-size="10.3" fill="#5c5c5c">20</text>
<text x="539.0" y="437.6" text-anchor="middle" font-family="Liberation Sans, sans-serif" font-weight="bold" font-size="10.3" fill="#5c5c5c">21</text>
<text x="561.8" y="437.6" text-anchor="middle" font-family="Liberation Sans, sans-serif" font-weight="bold" font-size="10.3" fill="#5c5c5c">22</text>
<text x="584.5" y="437.6" text-anchor="middle" font-family="Liberation Sans, sans-serif" font-weight="bold" font-size="10.3" fill="#5c5c5c">23</text>
<text x="607.3" y="437.6" text-anchor="middle" font-family="Liberation Sans, sans-serif" font-weight="bold" font-size="10.3" fill="#5c5c5c">24</text>
<text x="630.1" y="437.6" text-anchor="middle" font-family="Liberation Sans, sans-serif" font-weight="bold" font-size="10.3" fill="#5c5c5c">25</text>
<text x="652.8" y="437.6" text-anchor="middle" font-family="Liberation Sans, sans-serif" font-weight="bold" font-size="10.3" fill="#5c5c5c">26</text>
<text x="336.8" y="445.6" textLength="63" lengthAdjust="spacingAndGlyphs" font-family="Liberation Sans, sans-serif" font-size="7.8" fill="#808080">Номера заданий</text>
</svg>
<svg width="800" height="450" viewBox="0 0 800 450" style="position:absolute;left:0;top:0"><text x="661" y="246.6" textLength="128.6" lengthAdjust="spacingAndGlyphs" font-family="Liberation Sans, sans-serif" font-size="12.6" fill="#111">Уровень освоения</text></svg>
<div id="pg">4</div>
</body></html>
